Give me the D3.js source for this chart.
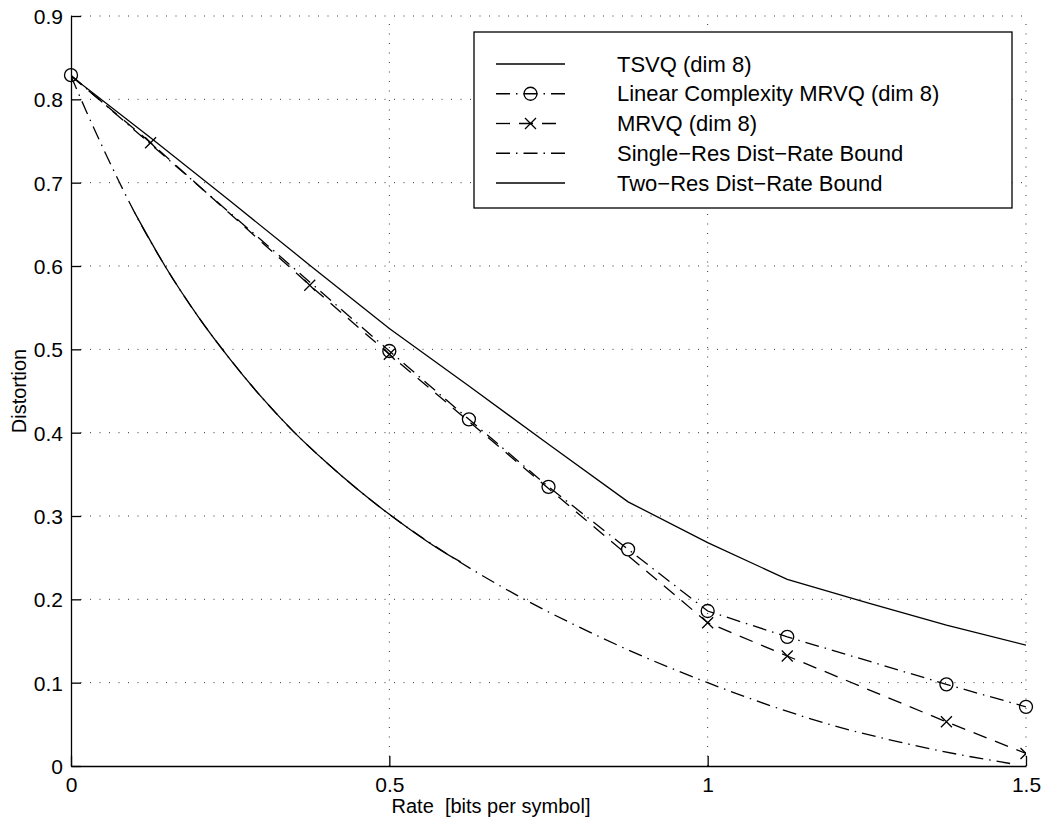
<!DOCTYPE html>
<html><head><meta charset="utf-8">
<script src="https://cdn.jsdelivr.net/npm/d3@7"></script>
<style>
body{margin:0;background:#fff;}
svg text{font-family:"Liberation Sans",Arial,Helvetica,sans-serif;fill:#000;white-space:pre;}
</style></head><body>
<svg id="chart" width="1044" height="823"></svg>
<script>
// Axis ticks
const xTicks = [0, 0.5, 1, 1.5];
const yTicks = [0, 0.1, 0.2, 0.3, 0.4, 0.5, 0.6, 0.7, 0.8, 0.9];

// TSVQ (dim 8)
const tsvqRate = [0, 0.125, 0.25, 0.375, 0.5, 0.625, 0.75, 0.875, 1.0, 1.125, 1.25, 1.375, 1.5];
const tsvqDist = [0.828, 0.754, 0.678, 0.601, 0.525, 0.456, 0.386, 0.317, 0.268, 0.224, 0.196, 0.169, 0.145];

// Linear Complexity MRVQ (dim 8)
const lcRate = [0, 0.5, 0.625, 0.75, 0.875, 1.0, 1.125, 1.375, 1.5];
const lcDist = [0.829, 0.498, 0.416, 0.335, 0.260, 0.186, 0.155, 0.098, 0.071];

// MRVQ (dim 8); the first point has no marker
const mrvqRate = [0, 0.125, 0.375, 0.5, 1.0, 1.125, 1.375, 1.5];
const mrvqDist = [0.828, 0.748, 0.577, 0.494, 0.172, 0.132, 0.053, 0.015];
const mrvqMarked = [false, true, true, true, true, true, true, true];

// Single-resolution distortion-rate bound
const singleRate = [0, 0.025, 0.05, 0.075, 0.1, 0.15, 0.2, 0.25, 0.3, 0.35, 0.4, 0.45, 0.5, 0.6, 0.7, 0.8, 0.9, 1.0, 1.1, 1.2, 1.3, 1.4, 1.475];
const singleDist = [0.828, 0.784, 0.742, 0.702, 0.664, 0.597, 0.539, 0.488, 0.442, 0.401, 0.365, 0.332, 0.302, 0.250, 0.205, 0.166, 0.131, 0.100, 0.072, 0.048, 0.029, 0.013, 0.003];

// Two-resolution distortion-rate bound
const twoRate = [0.1, 0.15, 0.2, 0.25, 0.3, 0.35, 0.4, 0.45, 0.5, 0.6, 0.612];
const twoDist = [0.664, 0.597, 0.539, 0.488, 0.442, 0.401, 0.365, 0.332, 0.302, 0.250, 0.245];

const legendLabels = ["TSVQ (dim 8)", "Linear Complexity MRVQ (dim 8)", "MRVQ (dim 8)", "Single\u2212Res Dist\u2212Rate Bound", "Two\u2212Res Dist\u2212Rate Bound"];

const svg = d3.select("#chart");
const L = 71, R = 1026, T = 16, B = 766;
const x = d3.scaleLinear().domain([0, 1.5]).range([L, R]);
const y = d3.scaleLinear().domain([0, 0.9]).range([B, T]);

const DASH = "14,9";
const DASHDOT = "14,6,1.5,6";

// dotted grid
const grid = svg.append("g").attr("stroke", "#333").attr("stroke-width", 1).attr("stroke-dasharray", "1,8.5");
grid.selectAll(".gx").data(xTicks.filter(d => d > 0)).join("line")
  .attr("x1", d => x(d)).attr("x2", d => x(d)).attr("y1", B).attr("y2", T);
grid.selectAll(".gy").data(yTicks.filter(d => d > 0)).join("line")
  .attr("y1", d => y(d)).attr("y2", d => y(d)).attr("x1", L).attr("x2", R);

// axes with inward ticks
const fmt = d => d === 0 ? "0" : d3.format("~g")(d);
const xAxis = svg.append("g").attr("transform", `translate(0,${B})`)
  .call(d3.axisBottom(x).tickValues(xTicks).tickSizeInner(-10).tickSizeOuter(0).tickPadding(11).tickFormat(fmt));
const yAxis = svg.append("g").attr("transform", `translate(${L},0)`)
  .call(d3.axisLeft(y).tickValues(yTicks).tickSizeInner(-10).tickSizeOuter(0).tickPadding(8).tickFormat(fmt));
[xAxis, yAxis].forEach(a => {
  a.selectAll("path, line").attr("stroke", "#000").attr("stroke-width", 1.3);
  a.selectAll("text").attr("font-size", 21).attr("fill", "#000")
    .style("font-family", '"Liberation Sans", Arial, sans-serif');
});
yAxis.selectAll("text").attr("dy", "0.35em");

svg.append("defs").append("clipPath").attr("id", "plotClip")
  .append("rect").attr("x", L).attr("y", T - 10).attr("width", R - L).attr("height", B - T + 10);

const plot = svg.append("g");
const straight = d3.line().x(d => x(d[0])).y(d => y(d[1]));
const smooth = d3.line().curve(d3.curveMonotoneX).x(d => x(d[0])).y(d => y(d[1]));
const zip = (a, b) => a.map((v, i) => [v, b[i]]);

function drawLine(pts, dash, gen) {
  plot.append("path").datum(pts).attr("d", gen)
    .attr("fill", "none").attr("stroke", "#000").attr("stroke-width", 1.3)
    .attr("stroke-dasharray", dash).attr("clip-path", "url(#plotClip)");
}
drawLine(zip(singleRate, singleDist), DASHDOT, smooth);
drawLine(zip(twoRate, twoDist), null, smooth);
drawLine(zip(tsvqRate, tsvqDist), null, straight);
drawLine(zip(mrvqRate, mrvqDist), DASH, straight);
drawLine(zip(lcRate, lcDist), DASHDOT, straight);

function circle(g, cx, cy) {
  g.append("circle").attr("cx", cx).attr("cy", cy).attr("r", 6.5)
    .attr("fill", "none").attr("stroke", "#000").attr("stroke-width", 1.3);
}
function cross(g, cx, cy) {
  const s = 5.5;
  g.append("path").attr("d", `M${cx - s},${cy - s}L${cx + s},${cy + s}M${cx - s},${cy + s}L${cx + s},${cy - s}`)
    .attr("stroke", "#000").attr("stroke-width", 1.3).attr("fill", "none");
}
zip(lcRate, lcDist).forEach(d => circle(plot, x(d[0]), y(d[1])));
const xg = plot.append("g").attr("clip-path", "url(#plotClip)");
zip(mrvqRate, mrvqDist).forEach((d, i) => { if (mrvqMarked[i]) cross(xg, x(d[0]), y(d[1])); });

// axis titles
svg.append("text").attr("x", 491).attr("y", 813).attr("text-anchor", "middle")
  .attr("font-size", 20).text("Rate  [bits per symbol]");
svg.append("text").attr("transform", `translate(26,${(T + B) / 2}) rotate(-90)`).attr("text-anchor", "middle")
  .attr("font-size", 20).text("Distortion");

// legend
const lg = svg.append("g");
const bx0 = 474, by0 = 32, bx1 = 1012, by1 = 208;
lg.append("rect").attr("x", bx0).attr("y", by0).attr("width", bx1 - bx0).attr("height", by1 - by0)
  .attr("fill", "#fff").attr("stroke", "#000").attr("stroke-width", 1.3);
const styles = [null, DASHDOT, DASH, DASHDOT, null];
const rowY = d3.scalePoint().domain(d3.range(5)).range([64, 183]);
const sx0 = 496, sx1 = 565;
legendLabels.forEach((lab, i) => {
  const yy = rowY(i);
  lg.append("line").attr("x1", sx0).attr("x2", sx1).attr("y1", yy).attr("y2", yy)
    .attr("stroke", "#000").attr("stroke-width", 1.3).attr("stroke-dasharray", styles[i]);
  if (i === 1) circle(lg, (sx0 + sx1) / 2, yy);
  if (i === 2) cross(lg, (sx0 + sx1) / 2, yy);
  lg.append("text").attr("x", 617).attr("y", yy).attr("dy", "0.35em").attr("font-size", 22).text(lab);
});
</script>
</body></html>
